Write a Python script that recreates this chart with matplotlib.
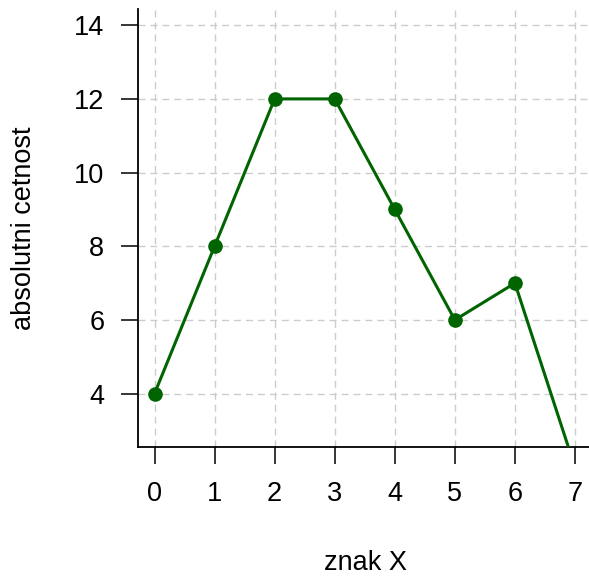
import matplotlib
matplotlib.use("Agg")
import matplotlib.pyplot as plt

# frequency table of variable X
znak = [0, 1, 2, 3, 4, 5, 6, 7]
cetnost = [4, 8, 12, 12, 9, 6, 7, 2]
x_ticks = [0, 1, 2, 3, 4, 5, 6, 7]
y_ticks = [4, 6, 8, 10, 12, 14]

plt.rcParams["font.family"] = ["Liberation Sans", "DejaVu Sans"]
FS = 19.5
plt.rcParams["font.size"] = FS

W, H = 589, 576
fig = plt.figure(figsize=(W / 100, H / 100), dpi=100)

left, right, top, bottom = 137.7, 591.8, 9.0, 446.7
ax = fig.add_axes([left / W, 1 - bottom / H, (right - left) / W, (bottom - top) / H])

ax.set_xlim(-0.28, 7.28)
ax.set_ylim(2.56, 14.44)

ax.grid(True, color="#cccccc", linewidth=1.0, linestyle=(0, (5, 3.6)))
ax.set_axisbelow(True)

ax.plot(znak, cetnost, color="#006400", linewidth=2.2, marker="o",
        markersize=9.5, zorder=3)

for s in ("top", "right"):
    ax.spines[s].set_visible(False)
for s in ("left", "bottom"):
    ax.spines[s].set_linewidth(1.3)
    ax.spines[s].set_color("black")

ax.set_xticks(x_ticks)
ax.set_yticks(y_ticks)
ax.tick_params(axis="both", length=12, width=1.1, color="black", labelsize=FS)
ax.tick_params(axis="x", pad=13)
ax.tick_params(axis="y", pad=12)

fig.text(365 / W, 1 - 569.5 / H, "znak X", ha="center", va="baseline", fontsize=FS)
fig.text(24.5 / W, 1 - 228 / H, "absolutni cetnost", ha="center", va="center",
         rotation=90, fontsize=FS)

fig.savefig("out.png", dpi=100)
